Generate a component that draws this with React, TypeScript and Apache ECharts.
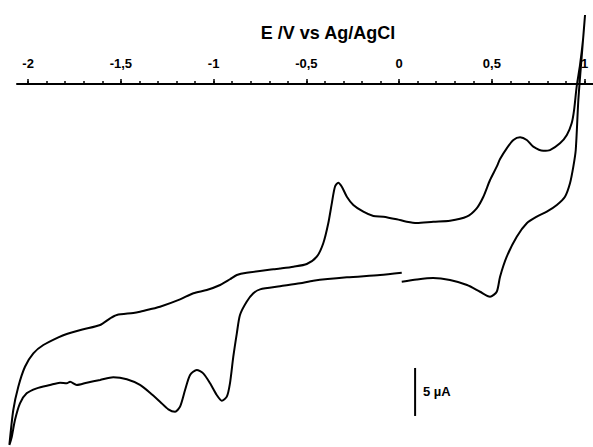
import React, { useEffect, useRef } from "react";
import * as echarts from "echarts";

// Potential (V vs Ag/AgCl) and current (µA), in scan order
const cvPotential = [
  0.014, 0.095, 0.183, 0.274, 0.366, 0.436, 0.49, 0.526, 0.544, 0.58, 0.634, 0.688, 0.742, 0.796, 0.85, 0.894, 0.921, 0.939, 0.952, 0.966, 0.984, 1.002,
  0.991, 0.975, 0.957, 0.943, 0.93, 0.904, 0.867, 0.813, 0.777, 0.723, 0.688, 0.652, 0.616, 0.58, 0.544, 0.526, 0.49, 0.454, 0.418, 0.364, 0.274, 0.184, 0.095, 0.041,
  -0.013, -0.085, -0.139, -0.193, -0.247, -0.282, -0.309, -0.328, -0.346, -0.363, -0.382, -0.409, -0.444, -0.498, -0.57, -0.642, -0.678, -0.822, -0.875, -0.912, -0.965,
  -1.037, -1.109, -1.181, -1.289, -1.343, -1.397, -1.433, -1.522, -1.558, -1.612, -1.702, -1.792, -1.837, -1.918, -1.972, -2.017, -2.053, -2.08, -2.101,
  -2.088, -2.071, -2.044, -2.008, -1.954, -1.882, -1.828, -1.792, -1.774, -1.738, -1.684, -1.612, -1.541, -1.468, -1.397, -1.343, -1.289, -1.244, -1.208, -1.181,
  -1.154, -1.127, -1.091, -1.056, -1.019, -0.983, -0.956, -0.929, -0.912, -0.894, -0.875, -0.858, -0.822, -0.786, -0.75, -0.642, -0.534, -0.463, -0.282, -0.103, 0.014,
];
const cvCurrent = [
  -20.59, -20.36, -20.21, -20.42, -20.94, -21.64, -22.16, -21.64, -20.07, -17.99, -15.91, -14.51, -13.82, -13.3, -12.6, -11.74, -10.34, -8.61, -6.88, -1.67, 2.84, 7.19,
  4.58, 1.98, -0.28, -2.71, -4.09, -5.31, -6.18, -6.88, -6.95, -6.53, -5.83, -5.55, -5.83, -6.7, -7.81, -8.61, -10.0, -11.74, -12.95, -13.82, -14.24, -14.34, -14.48, -14.34,
  -14.09, -13.82, -13.75, -13.3, -12.6, -11.74, -10.7, -10.28, -10.7, -12.43, -14.51, -16.59, -17.99, -18.75, -19.03, -19.22, -19.3, -19.66, -19.9, -20.34, -20.94,
  -21.46, -21.8, -22.43, -23.2, -23.47, -23.72, -23.85, -24.06, -24.41, -25.1, -25.55, -26.04, -26.39, -27.19, -28.05, -29.45, -31.53, -33.96, -37.6,
  -36.74, -35.0, -33.26, -32.22, -31.7, -31.35, -31.11, -31.18, -31.01, -31.35, -31.11, -30.83, -30.55, -30.76, -31.35, -32.16, -33.09, -33.89, -34.14, -33.61,
  -31.88, -30.31, -29.79, -30.14, -31.18, -32.4, -32.99, -32.57, -31.18, -28.41, -25.97, -24.06, -22.68, -21.8, -21.39, -21.07, -20.76, -20.49, -20.14, -19.9, -19.66,
];

// Scale bar (5 µA)
const scaleBarPotential = [0.086, 0.086];
const scaleBarCurrent = [-29.58, -34.58];
const scaleBarLabel = "5 µA";

const majorTicks = [-2, -1.5, -1, -0.5, 0, 0.5, 1];
const minorTicks = [
  -2, -1.9, -1.8, -1.7, -1.6, -1.5, -1.4, -1.3, -1.2, -1.1, -1, -0.9, -0.8, -0.7, -0.6, -0.5, -0.4, -0.3, -0.2, -0.1,
  0, 0.1, 0.2, 0.3, 0.4, 0.5, 0.6, 0.7, 0.8, 0.9, 1,
];
const axisTitle = "E /V vs Ag/AgCl";

const FONT = "'Liberation Sans', Arial, sans-serif";

export default function App() {
  const ref = useRef<HTMLDivElement>(null);
  useEffect(() => {
    document.body.style.margin = "0";
    if (!ref.current) return;
    const chart = echarts.init(ref.current, null, { renderer: "svg" });
    const xMax = 1.045;
    const axisStart = -2.06; // where the drawn axis line begins
    const dataMin = -2.11; // plotting range reaches a little past the axis start
    const pxPerVolt = (593 - 17) / (xMax - axisStart);
    const dataLeft = 17 - (axisStart - dataMin) * pxPerVolt;
    const yMin = -37.8125;
    const yMax = 0;
    const common = { right: 0, top: 84, bottom: 0, outerBoundsMode: "none", containLabel: false };
    chart.setOption({
      animation: false,
      backgroundColor: "#ffffff",
      grid: [
        { ...common, left: dataLeft },
        { ...common, left: 17 },
      ],
      xAxis: [
        {
          type: "value",
          gridIndex: 0,
          position: "top",
          min: dataMin,
          max: xMax,
          axisLine: { show: false, onZero: false },
          axisTick: { show: true, customValues: majorTicks, length: 5, lineStyle: { color: "#000", width: 1.5 } },
          axisLabel: {
            show: true,
            customValues: majorTicks,
            margin: 14,
            color: "#000",
            fontFamily: FONT,
            fontWeight: "bold",
            fontSize: 13,
            formatter: (v: number) => String(v).replace(".", ","),
          },
          splitLine: { show: false },
        },
        {
          type: "value",
          gridIndex: 1,
          position: "top",
          min: axisStart,
          max: xMax,
          axisLine: { show: true, onZero: false, lineStyle: { color: "#000", width: 2 } },
          axisTick: { show: true, customValues: minorTicks, length: 3, lineStyle: { color: "#000", width: 1.5 } },
          axisLabel: { show: false },
          splitLine: { show: false },
        },
      ],
      yAxis: [
        { type: "value", gridIndex: 0, show: false, min: yMin, max: yMax, axisLine: { onZero: false }, splitLine: { show: false } },
        { type: "value", gridIndex: 1, show: false, min: yMin, max: yMax, axisLine: { onZero: false }, splitLine: { show: false } },
      ],
      graphic: [
        {
          type: "text",
          x: 328,
          y: 33,
          style: {
            text: axisTitle,
            fill: "#000",
            font: `bold 18px ${FONT}`,
            textAlign: "center",
            textVerticalAlign: "middle",
          },
        },
        {
          type: "text",
          x: 423,
          y: 391,
          style: {
            text: scaleBarLabel,
            fill: "#000",
            font: `bold 13px ${FONT}`,
            textAlign: "left",
            textVerticalAlign: "middle",
          },
        },
      ],
      series: [
        {
          type: "line",
          xAxisIndex: 0,
          yAxisIndex: 0,
          data: cvPotential.map((v, i) => [v, cvCurrent[i]]),
          showSymbol: false,
          smooth: 0.25,
          clip: false,
          z: 5,
          lineStyle: { color: "#000", width: 2 },
        },
        {
          type: "line",
          xAxisIndex: 0,
          yAxisIndex: 0,
          data: scaleBarPotential.map((v, i) => [v, scaleBarCurrent[i]]),
          showSymbol: false,
          clip: false,
          lineStyle: { color: "#000", width: 2 },
        },
      ],
    });
    return () => chart.dispose();
  }, []);
  return <div ref={ref} style={{ width: 593, height: 447 }} />;
}
